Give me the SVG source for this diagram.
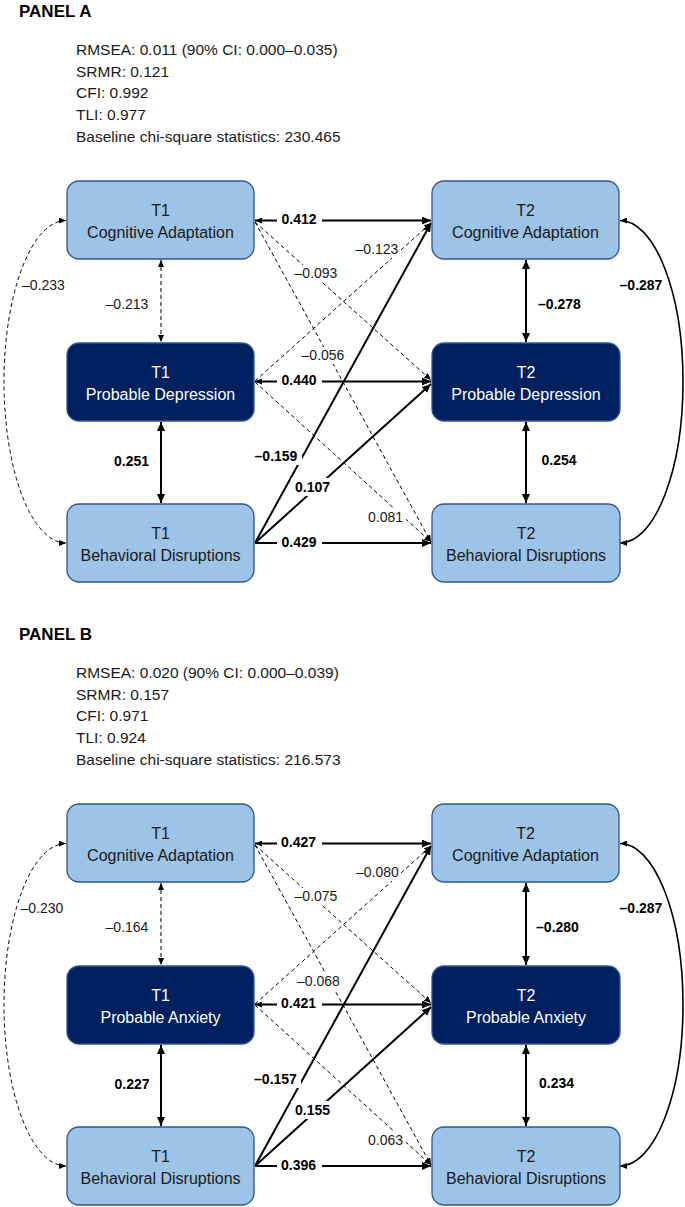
<svg xmlns="http://www.w3.org/2000/svg" width="685" height="1207" viewBox="0 0 685 1207">
<style>
text{font-family:"Liberation Sans",Arial,sans-serif;fill:#1a1a1a}
.title{font-size:17px;font-weight:bold;fill:#000}
.fit{font-size:15.5px}
.bl{fill:#9DC3E6;stroke:#2F5597;stroke-width:1.3}
.bd{fill:#002060;stroke:#2F5597;stroke-width:1.3}
.nt{font-size:16px;text-anchor:middle}
.ntw{font-size:16px;text-anchor:middle;fill:#fff}
.lab{font-size:14px;text-anchor:middle}
.b{font-weight:bold;fill:#000}
.s{fill:none;stroke:#000;stroke-width:2}
.d{fill:none;stroke:#000;stroke-width:1;stroke-dasharray:4 3}
.bg{fill:#fff}
</style>
<defs>
<marker id="aS" markerUnits="userSpaceOnUse" markerWidth="10" markerHeight="8" refX="9" refY="4" orient="auto-start-reverse"><path d="M0,0 L9,4 L0,8 z" fill="#000"/></marker>
<marker id="aD" markerUnits="userSpaceOnUse" markerWidth="8" markerHeight="6" refX="7" refY="3" orient="auto-start-reverse"><path d="M0,0 L7,3 L0,6 z" fill="#000"/></marker>
</defs>

<!-- PANEL A -->
<g id="panelA">
<text class="title" x="19" y="17">PANEL A</text>
<g id="fitA" class="fit">
<text class="fit" x="76" y="55">RMSEA: 0.011 (90% CI: 0.000–0.035)</text>
<text class="fit" x="76" y="77">SRMR: 0.121</text>
<text class="fit" x="76" y="98">CFI: 0.992</text>
<text class="fit" x="76" y="120">TLI: 0.977</text>
<text class="fit" x="76" y="142">Baseline chi-square statistics: 230.465</text>
</g>
<g id="connectorsA">
<path class="s" d="M255,220.5 H431" marker-start="url(#aD)" marker-end="url(#aS)"/>
<path class="s" d="M255,381.5 H431" marker-start="url(#aD)" marker-end="url(#aS)"/>
<path class="s" d="M255,543 H431" marker-end="url(#aS)"/>
<path class="s" d="M255,543 L431,223" marker-end="url(#aS)"/>
<path class="s" d="M255,543 L431,384" marker-end="url(#aS)"/>
<path class="d" d="M255,222 L431,380" marker-end="url(#aD)"/>
<path class="d" d="M255,222 L431,542" marker-end="url(#aD)"/>
<path class="d" d="M255,381 L431,223" marker-end="url(#aD)"/>
<path class="d" d="M255,382 L431,542" marker-end="url(#aD)"/>
<path class="d" d="M161,260 V342" marker-start="url(#aD)" marker-end="url(#aD)"/>
<path class="s" d="M161,422 V503" marker-start="url(#aS)" marker-end="url(#aS)"/>
<path class="s" d="M526,260 V342" marker-start="url(#aS)" marker-end="url(#aS)"/>
<path class="s" d="M526,422 V503" marker-start="url(#aS)" marker-end="url(#aS)"/>
<path class="d" d="M66,220.5 A62,161.25 0 0 0 66,543" marker-start="url(#aD)" marker-end="url(#aD)"/>
<path class="s" style="stroke-width:1.6" d="M620,220.5 A63,161.25 0 0 1 620,543" marker-start="url(#aD)" marker-end="url(#aD)"/>
</g>
<g id="labelsA">
<rect class="bg" x="277" y="211" width="45" height="17"/><text class="lab b" x="299" y="224">0.412</text>
<rect class="bg" x="277" y="372" width="45" height="17"/><text class="lab b" x="299" y="385">0.440</text>
<rect class="bg" x="277" y="534" width="45" height="17"/><text class="lab b" x="299" y="547">0.429</text>
<rect class="bg" x="252" y="447" width="50" height="18"/><text class="lab b" x="276" y="461">–0.159</text>
<rect class="bg" x="291" y="478" width="43" height="18"/><text class="lab b" x="312.5" y="492">0.107</text>
<rect class="bg" x="292" y="265" width="48" height="17"/><text class="lab" x="316" y="278">–0.093</text>
<rect class="bg" x="299" y="347" width="48" height="17"/><text class="lab" x="323" y="360">–0.056</text>
<rect class="bg" x="353" y="241" width="48" height="17"/><text class="lab" x="377" y="254">–0.123</text>
<rect class="bg" x="365" y="509" width="41" height="17"/><text class="lab" x="385.5" y="522">0.081</text>
<text class="lab" x="127" y="309">–0.213</text>
<text class="lab b" x="131.5" y="466">0.251</text>
<text class="lab b" x="559.5" y="309">–0.278</text>
<text class="lab b" x="559" y="465">0.254</text>
<text class="lab" x="43.5" y="290">–0.233</text>
<text class="lab b" x="641" y="290">–0.287</text>
</g>
<g id="A_T1_CA"><rect class="bl" x="67" y="181" width="187" height="78" rx="12"/><text class="nt" x="160.5" y="216">T1</text><text class="nt" x="160.5" y="238">Cognitive Adaptation</text></g>
<g id="A_T1_PD"><rect class="bd" x="67" y="343" width="187" height="78" rx="12"/><text class="ntw" x="160.5" y="378">T1</text><text class="ntw" x="160.5" y="400">Probable Depression</text></g>
<g id="A_T1_BD"><rect class="bl" x="67" y="504" width="187" height="78" rx="12"/><text class="nt" x="160.5" y="539">T1</text><text class="nt" x="160.5" y="561">Behavioral Disruptions</text></g>
<g id="A_T2_CA"><rect class="bl" x="432" y="181" width="187" height="78" rx="12"/><text class="nt" x="525.5" y="216">T2</text><text class="nt" x="525.5" y="238">Cognitive Adaptation</text></g>
<g id="A_T2_PD"><rect class="bd" x="432" y="343" width="188" height="78" rx="12"/><text class="ntw" x="526" y="378">T2</text><text class="ntw" x="526" y="400">Probable Depression</text></g>
<g id="A_T2_BD"><rect class="bl" x="432" y="504" width="188" height="78" rx="12"/><text class="nt" x="526" y="539">T2</text><text class="nt" x="526" y="561">Behavioral Disruptions</text></g>
</g>

<!-- PANEL B -->
<g id="panelB" transform="translate(0,623)">
<text class="title" x="19" y="17">PANEL B</text>
<g id="fitB">
<text class="fit" x="76" y="55">RMSEA: 0.020 (90% CI: 0.000–0.039)</text>
<text class="fit" x="76" y="77">SRMR: 0.157</text>
<text class="fit" x="76" y="98">CFI: 0.971</text>
<text class="fit" x="76" y="120">TLI: 0.924</text>
<text class="fit" x="76" y="142">Baseline chi-square statistics: 216.573</text>
</g>
<g id="connectorsB">
<path class="s" d="M255,220.5 H431" marker-start="url(#aD)" marker-end="url(#aS)"/>
<path class="s" d="M255,381.5 H431" marker-start="url(#aD)" marker-end="url(#aS)"/>
<path class="s" d="M255,543 H431" marker-end="url(#aS)"/>
<path class="s" d="M255,543 L431,223" marker-end="url(#aS)"/>
<path class="s" d="M255,543 L431,384" marker-end="url(#aS)"/>
<path class="d" d="M255,222 L431,380" marker-end="url(#aD)"/>
<path class="d" d="M255,222 L431,542" marker-end="url(#aD)"/>
<path class="d" d="M255,381 L431,223" marker-end="url(#aD)"/>
<path class="d" d="M255,382 L431,542" marker-end="url(#aD)"/>
<path class="d" d="M161,260 V342" marker-start="url(#aD)" marker-end="url(#aD)"/>
<path class="s" d="M161,422 V503" marker-start="url(#aS)" marker-end="url(#aS)"/>
<path class="s" d="M526,260 V342" marker-start="url(#aS)" marker-end="url(#aS)"/>
<path class="s" d="M526,422 V503" marker-start="url(#aS)" marker-end="url(#aS)"/>
<path class="d" d="M66,220.5 A62,161.25 0 0 0 66,543" marker-start="url(#aD)" marker-end="url(#aD)"/>
<path class="s" style="stroke-width:1.6" d="M620,220.5 A63,161.25 0 0 1 620,543" marker-start="url(#aD)" marker-end="url(#aD)"/>
</g>
<g id="labelsB">
<rect class="bg" x="277" y="211" width="45" height="17"/><text class="lab b" x="298.5" y="224">0.427</text>
<rect class="bg" x="277" y="372" width="45" height="17"/><text class="lab b" x="298.5" y="385">0.421</text>
<rect class="bg" x="277" y="534" width="45" height="17"/><text class="lab b" x="298.5" y="547">0.396</text>
<rect class="bg" x="251" y="447" width="50" height="18"/><text class="lab b" x="275.5" y="461">–0.157</text>
<rect class="bg" x="291" y="478" width="43" height="18"/><text class="lab b" x="312.5" y="492">0.155</text>
<rect class="bg" x="292" y="265" width="48" height="17"/><text class="lab" x="316" y="278">–0.075</text>
<rect class="bg" x="294" y="350" width="48" height="17"/><text class="lab" x="318.5" y="363">–0.068</text>
<rect class="bg" x="353" y="241" width="48" height="17"/><text class="lab" x="377.5" y="254">–0.080</text>
<rect class="bg" x="365" y="509" width="41" height="17"/><text class="lab" x="385.5" y="522">0.063</text>
<text class="lab" x="127" y="309">–0.164</text>
<text class="lab b" x="132" y="466">0.227</text>
<text class="lab b" x="557.5" y="309">–0.280</text>
<text class="lab b" x="556.5" y="465">0.234</text>
<text class="lab" x="42" y="290">–0.230</text>
<text class="lab b" x="641" y="290">–0.287</text>
</g>
<g id="B_T1_CA"><rect class="bl" x="67" y="181" width="187" height="78" rx="12"/><text class="nt" x="160.5" y="216">T1</text><text class="nt" x="160.5" y="238">Cognitive Adaptation</text></g>
<g id="B_T1_PA"><rect class="bd" x="67" y="343" width="187" height="78" rx="12"/><text class="ntw" x="160.5" y="378">T1</text><text class="ntw" x="160.5" y="400">Probable Anxiety</text></g>
<g id="B_T1_BD"><rect class="bl" x="67" y="504" width="187" height="78" rx="12"/><text class="nt" x="160.5" y="539">T1</text><text class="nt" x="160.5" y="561">Behavioral Disruptions</text></g>
<g id="B_T2_CA"><rect class="bl" x="432" y="181" width="187" height="78" rx="12"/><text class="nt" x="525.5" y="216">T2</text><text class="nt" x="525.5" y="238">Cognitive Adaptation</text></g>
<g id="B_T2_PA"><rect class="bd" x="432" y="343" width="188" height="78" rx="12"/><text class="ntw" x="526" y="378">T2</text><text class="ntw" x="526" y="400">Probable Anxiety</text></g>
<g id="B_T2_BD"><rect class="bl" x="432" y="504" width="188" height="78" rx="12"/><text class="nt" x="526" y="539">T2</text><text class="nt" x="526" y="561">Behavioral Disruptions</text></g>
</g>
</svg>
